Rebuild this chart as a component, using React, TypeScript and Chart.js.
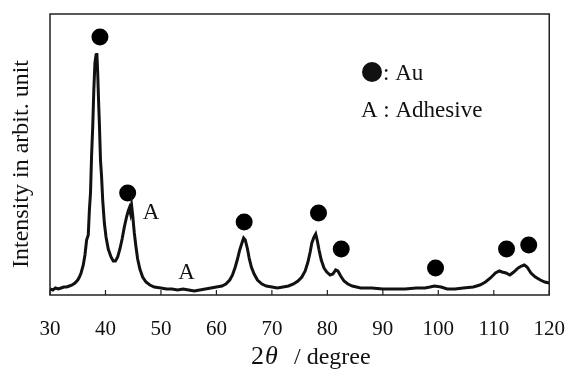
import React, { useEffect, useRef } from "react";
import { Chart, registerables } from "chart.js";

Chart.register(...registerables);

// XRD pattern: 2θ (degree) and intensity (arbitrary units)
const twoTheta = [
  30, 30.5, 31, 31.5, 32, 32.5, 33, 33.5, 34, 34.5, 35, 35.3, 35.6, 36, 36.3, 36.6, 36.9, 37.1, 37.3, 37.5,
  37.7, 37.9, 38.1, 38.3, 38.45, 38.6, 38.75, 38.9, 39.1, 39.3, 39.5, 39.8, 40.1, 40.5, 41.0, 41.4, 41.8, 42.2,
  42.6, 43.0, 43.4, 43.8, 44.1, 44.3, 44.5, 44.7, 44.9, 45.2, 45.5, 45.8, 46.2, 46.7, 47.3, 48, 48.8, 50, 51,
  52, 53, 54, 55, 56, 57, 58, 59, 60, 61, 61.7, 62.4, 62.9, 63.4, 63.8, 64.2, 64.6, 64.9, 65.2, 65.6, 65.9, 66.3,
  66.8, 67.4, 68.2, 69, 70, 71, 72, 73, 73.9, 74.7, 75.4, 76, 76.5, 76.9, 77.2, 77.6, 77.9, 78.2, 78.5, 78.9,
  79.4, 79.9, 80.5, 81.0, 81.5, 81.9, 82.4, 83, 83.7, 84.5, 86, 88, 90, 92, 94, 96, 97.6, 98.5, 99.3, 100.5,
  101.6, 103, 104.5, 106.3, 107.5, 108.5, 109.4, 110.3, 111, 111.5, 112.2, 112.9, 113.6, 114.4, 115, 115.5, 116,
  116.7, 117.5, 118.4, 119.2, 120,
];
const intensity = [
  6, 5, 7, 6, 7, 8, 8, 9, 10, 12, 15, 18, 22, 30, 40, 55, 60, 85, 102, 140,
  168, 205, 232, 240, 242, 222, 195, 172, 135, 118, 95, 72, 58, 46, 38, 34, 34, 38,
  46, 56, 68, 78, 84, 87, 82, 90, 80, 62, 48, 36, 26, 18, 13, 10, 8, 7, 6,
  6, 5, 6, 5, 4, 5, 6, 7, 8, 9, 11, 15, 20, 28, 36, 45, 52, 57, 55, 46, 37, 28,
  21, 15, 11, 9, 8, 7, 8, 9, 11, 14, 18, 24, 33, 43, 52, 58, 61, 54, 45, 35,
  27, 23, 20, 21, 25, 24, 19, 14, 11, 9, 7, 7, 6, 6, 6, 7, 7, 8, 9, 8,
  6, 6, 7, 8, 10, 13, 17, 22, 24, 23, 22, 20, 23, 27, 29, 30, 28,
  22, 18, 15, 13, 12,
];

// Au peak markers (●)
const auTheta = [39.0, 44.0, 65.0, 78.4, 82.5, 99.5, 112.3, 116.3];
const auLevel = [258, 102, 73, 82, 46, 27, 46, 50];

// Adhesive labels (A)
const adhTheta = [48.2, 54.6];
const adhLevel = [82, 22];

const xTicks = [30, 40, 50, 60, 70, 80, 90, 100, 110, 120];

const yTitle = "Intensity in arbit. unit";
const xTitleSymbol = "2θ";
const xTitleUnit = "/ degree";

const SERIF = "'Liberation Serif', 'DejaVu Serif', serif";

export default function App() {
  const ref = useRef<HTMLCanvasElement | null>(null);

  useEffect(() => {
    if (!ref.current) return;

    const decor = {
      id: "decor",
      afterDraw(chart: any) {
        const { ctx, chartArea, scales } = chart;
        const xs = scales.x;
        const ys = scales.y;
        ctx.save();
        // frame
        ctx.strokeStyle = "#222";
        ctx.lineWidth = 1.5;
        ctx.strokeRect(chartArea.left, chartArea.top, chartArea.right - chartArea.left, chartArea.bottom - chartArea.top);
        // inward ticks on bottom
        ctx.lineWidth = 1.2;
        xTicks.forEach((v) => {
          const px = xs.getPixelForValue(v);
          ctx.beginPath();
          ctx.moveTo(px, chartArea.bottom);
          ctx.lineTo(px, chartArea.bottom - 5);
          ctx.stroke();
        });
        ctx.fillStyle = "#111";
        // x axis title (2θ larger, θ italic)
        ctx.textAlign = "left";
        ctx.textBaseline = "alphabetic";
        ctx.font = `26px ${SERIF}`;
        ctx.fillText(xTitleSymbol[0], 251, 364);
        ctx.font = `italic 26px ${SERIF}`;
        ctx.fillText(xTitleSymbol[1], 265, 364);
        ctx.font = `24px ${SERIF}`;
        ctx.fillText(xTitleUnit, 294, 364);
        // y axis title
        ctx.save();
        ctx.translate(22, 164);
        ctx.rotate(-Math.PI / 2);
        ctx.font = `24px ${SERIF}`;
        ctx.textAlign = "center";
        ctx.textBaseline = "middle";
        ctx.fillText(yTitle, 0, 0);
        ctx.restore();
        // adhesive labels
        ctx.font = `23px ${SERIF}`;
        ctx.textAlign = "center";
        ctx.textBaseline = "middle";
        adhTheta.forEach((t, i) => {
          ctx.fillText("A", xs.getPixelForValue(t), ys.getPixelForValue(adhLevel[i]));
        });
        // legend
        ctx.beginPath();
        ctx.arc(372, 72, 10, 0, Math.PI * 2);
        ctx.fill();
        ctx.textAlign = "left";
        ctx.textBaseline = "alphabetic";
        ctx.fillText(": Au", 383, 80);
        ctx.fillText("A : Adhesive", 361, 117);
        ctx.restore();
      },
    };

    const chart = new Chart(ref.current, {
      type: "scatter",
      data: {
        datasets: [
          {
            label: "pattern",
            data: twoTheta.map((t, i) => ({ x: t, y: intensity[i] })),
            showLine: true,
            borderColor: "#111",
            borderWidth: 3,
            pointRadius: 0,
            tension: 0,
          },
          {
            label: "Au",
            data: auTheta.map((t, i) => ({ x: t, y: auLevel[i] })),
            showLine: false,
            pointStyle: "circle",
            pointRadius: 8.5,
            backgroundColor: "#000",
            borderColor: "#000",
            borderWidth: 0,
          },
        ],
      },
      options: {
        responsive: false,
        animation: false,
        layout: { padding: { top: 14, right: 18, left: 0, bottom: 0 } },
        plugins: { legend: { display: false }, tooltip: { enabled: false } },
        scales: {
          x: {
            type: "linear",
            min: 30,
            max: 120,
            grid: { display: false, drawTicks: false },
            border: { display: false },
            afterBuildTicks: (scale: any) => {
              scale.ticks = xTicks.map((v) => ({ value: v }));
            },
            ticks: {
              color: "#111",
              font: { family: SERIF, size: 21 },
              padding: 22,
              maxRotation: 0,
              autoSkip: false,
            },
            title: { display: false, text: xTitleSymbol + " " + xTitleUnit },
            afterFit: (scale: any) => {
              scale.height = 78;
            },
          },
          y: {
            type: "linear",
            min: 0,
            max: 281,
            grid: { display: false, drawTicks: false },
            border: { display: false },
            ticks: { display: false },
            title: { display: false, text: yTitle },
            afterFit: (scale: any) => {
              scale.width = 50;
            },
          },
        },
      },
      plugins: [decor],
    });

    return () => chart.destroy();
  }, []);

  return (
    <div style={{ position: "fixed", left: 0, top: 0, width: 587, height: 373, background: "#fff" }}>
      <canvas ref={ref} width={587} height={373} />
    </div>
  );
}
